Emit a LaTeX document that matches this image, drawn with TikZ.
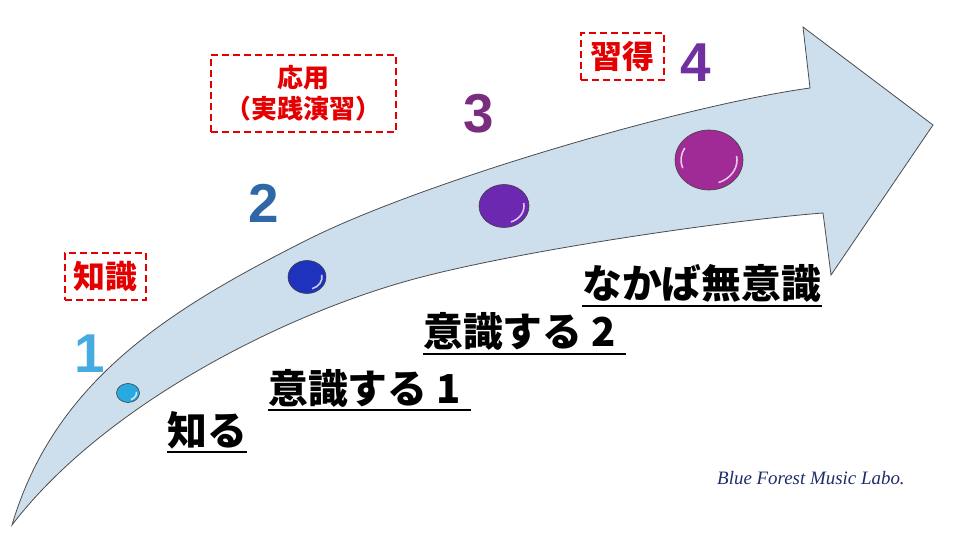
\documentclass[tikz,border=0pt]{standalone}
\usepackage{fontspec}
\newfontfamily\jpfont{Noto Sans CJK JP}
\newfontfamily\numfont{Liberation Sans}
\newfontfamily\labofont{Liberation Serif}
\definecolor{arrowfill}{RGB}{205,222,237}
\definecolor{tagred}{RGB}{228,0,0}
\definecolor{numA}{RGB}{70,172,224}
\definecolor{numB}{RGB}{46,104,166}
\definecolor{numC}{RGB}{122,44,126}
\definecolor{numD}{RGB}{112,48,160}
\definecolor{beadA}{RGB}{40,170,225}
\definecolor{beadB}{RGB}{30,50,190}
\definecolor{beadC}{RGB}{108,40,176}
\definecolor{beadD}{RGB}{160,42,150}
\definecolor{labo}{RGB}{30,45,105}
\tikzset{
  steplabel/.style={font=\jpfont\bfseries\fontsize{40}{40}\selectfont, inner sep=0pt, anchor=base west},
  uline/.style={line width=2.5bp},
  num/.style={font=\numfont\bfseries\fontsize{55}{55}\selectfont, inner sep=0pt, anchor=base},
  tag/.style={draw=tagred, dash pattern=on 7bp off 4bp, line width=2.2bp, text=tagred, align=center,
    inner sep=0pt, font=\jpfont\bfseries\fontsize{32}{32}\selectfont},
  bead/.style={draw=black!75, line width=0.6bp},
  gloss/.style={white, opacity=0.75, line width=1.6bp}
}
\begin{document}
\begin{tikzpicture}[x=1bp,y=-1bp]
      \useasboundingbox (0,0) rectangle (960,540);
      % arrow
      \filldraw[fill=arrowfill, draw=black!70, line width=0.8bp]
        (12,525) .. controls (55,380) and (170,309) .. (307,240)
        .. controls (420,183) and (680,106) .. (810,88)
        -- (803,27) -- (933,125) -- (831,275) -- (823,213)
        .. controls (720,221) and (500,253.5) .. (400,283)
        .. controls (270,321) and (100,410) .. (12,525)
        -- cycle;

      % beads on the arrow
      \filldraw[bead, fill=beadA] (128,393) ellipse [x radius=11.5bp, y radius=9.5bp];
      \draw[gloss] (128,393) ++(-70:8.5bp and 7bp) arc [start angle=-70, end angle=10, x radius=8.5bp, y radius=7bp];
      \filldraw[bead, fill=beadB] (307,277) ellipse [x radius=19bp, y radius=16.5bp];
      \draw[gloss] (307,277) ++(-70:15bp and 12.5bp) arc [start angle=-70, end angle=10, x radius=15bp, y radius=12.5bp];
      \filldraw[bead, fill=beadC] (504,206) ellipse [x radius=25bp, y radius=21.5bp];
      \draw[gloss] (504,206) ++(-70:20bp and 17bp) arc [start angle=-70, end angle=10, x radius=20bp, y radius=17bp];
      \filldraw[bead, fill=beadD] (709,160) ellipse [x radius=34bp, y radius=30bp];
      \draw[gloss] (709,160) ++(-70:28bp and 24bp) arc [start angle=-70, end angle=10, x radius=28bp, y radius=24bp];
      \draw[gloss] (709,160) ++(150:28bp and 24bp) arc [start angle=150, end angle=200, x radius=28bp, y radius=24bp];

      % step numbers
      \node[num, text=numA] (n1) at (90,373) {1};
      \node[num, text=numB] (n2) at (264,223) {2};
      \node[num, text=numC] (n3) at (479,133) {3};
      \node[num, text=numD] (n4) at (696,82) {4};

      % red tags
      \node[tag, minimum width=81bp, minimum height=47bp] (chishiki) at (105.5,276.5) {知識};
      \node[tag, minimum width=185bp, minimum height=77bp, font=\jpfont\bfseries\fontsize{26}{31}\selectfont] (ouyou) at (303.5,93.5) {応用\\（実践演習）};
      \node[tag, minimum width=83bp, minimum height=47bp] (shutoku) at (622.5,56.5) {習得};

      % step labels
      \node[steplabel] (shiru) at (167,445) {知る};
      \draw[uline] ([yshift=-7bp]shiru.base west) -- ([yshift=-7bp]shiru.base east);
      \node[steplabel] (ishiki1) at (268,403) {意識する 1};
      \draw[uline] ([yshift=-7bp]ishiki1.base west) -- ([xshift=10bp,yshift=-7bp]ishiki1.base east);
      \node[steplabel] (ishiki2) at (423,347) {意識する 2};
      \draw[uline] ([yshift=-7bp]ishiki2.base west) -- ([xshift=10bp,yshift=-7bp]ishiki2.base east);
      \node[steplabel] (muishiki) at (582,299) {なかば無意識};
      \draw[uline] ([yshift=-7bp]muishiki.base west) -- ([yshift=-7bp]muishiki.base east);

      \node[font=\labofont\itshape\fontsize{19}{19}\selectfont, text=labo, anchor=base west, inner sep=0pt] (credit) at (717,484) {Blue Forest Music Labo.};
\end{tikzpicture}
\end{document}
